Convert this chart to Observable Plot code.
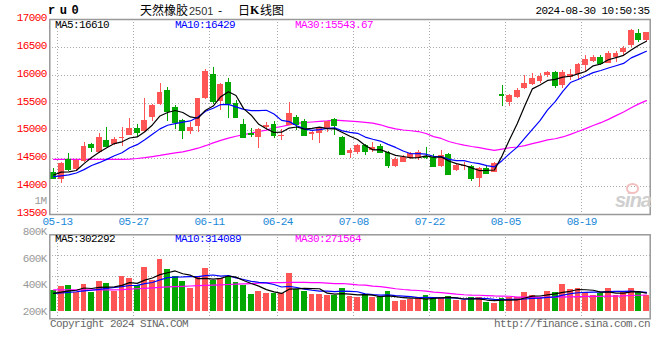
<!DOCTYPE html>
<html><head><meta charset="utf-8">
<script src="https://cdn.jsdelivr.net/npm/d3@7"></script>
<script src="https://cdn.jsdelivr.net/npm/@observablehq/plot@0.6"></script>
<style>
body{margin:0;background:#fff;}
#wrap{position:relative;width:660px;height:360px;overflow:hidden;}
#wrap svg{position:absolute;left:0;top:0;}
.t{position:absolute;white-space:nowrap;line-height:1;}
</style></head><body><div id="wrap"></div>
<script>
const dates = ["05-13","05-14","05-15","05-16","05-17","05-20","05-21","05-22","05-23","05-24",
"05-27","05-28","05-29","05-30","05-31","06-03","06-04","06-05","06-06","06-07",
"06-11","06-12","06-13","06-14","06-17","06-18","06-19","06-20","06-21","06-24",
"06-25","06-26","06-27","06-28","07-01","07-02","07-03","07-04","07-05","07-08",
"07-09","07-10","07-11","07-12","07-15","07-16","07-17","07-18","07-19","07-22",
"07-23","07-24","07-25","07-26","07-29","07-30","07-31","08-01","08-02","08-05",
"08-06","08-07","08-08","08-09","08-12","08-13","08-14","08-15","08-16","08-19",
"08-20","08-21","08-22","08-23","08-26","08-27","08-28","08-29","08-30"];
const open = [14250,14120,14490,14300,14450,14750,14620,14830,14755,14870,
14920,15035,14990,15245,15480,15725,15420,15180,14995,15080,
15590,16010,15535,15870,15500,15115,14950,14890,15060,15120,
14900,15100,15240,15165,14940,14945,15040,15200,14880,14590,
14610,14740,14640,14725,14620,14370,14440,14500,14500,14550,
14530,14370,14575,14290,14370,14360,14140,14320,14260,15650,
15515,15595,15755,15830,15885,15995,16055,15815,15965,16005,
16175,16250,16325,16215,16325,16415,16535,16740,16620];
const high = [14330,14425,14595,14480,14790,14770,14950,15060,14890,15070,
15220,15120,15580,15480,15850,15785,15455,15200,15155,15580,
16095,16130,15855,15935,15540,15205,15035,15040,15160,15170,
15030,15510,15270,15200,14990,15060,15175,15215,14900,14690,
14760,14750,14800,14760,14630,14515,14560,14610,14640,14700,
14575,14650,14600,14420,14440,14380,14350,14360,14440,15815,
15650,15755,15995,16025,16025,16075,16060,16085,16095,16215,
16355,16355,16355,16430,16430,16515,16825,16815,16765];
const low = [14120,14065,14265,14280,14440,14620,14600,14710,14740,14720,
14910,14890,14980,15170,15460,15170,15020,14845,14940,14975,
15560,15480,15365,15215,15215,14860,14885,14690,15005,14870,
14835,15090,15000,14900,14830,14780,14970,14920,14565,14500,
14580,14560,14620,14590,14330,14345,14440,14480,14470,14480,
14340,14350,14200,14280,14290,14100,13980,14220,14255,15440,
15440,15590,15750,15815,15845,15965,15755,15755,15905,15905,
16055,16235,16175,16205,16235,16355,16505,16590,16600];
const close = [14145,14420,14310,14470,14720,14700,14880,14720,14845,14880,
15040,14975,15185,15455,15690,15350,15155,15005,15055,15575,
16070,15530,15840,15500,15245,14890,14935,15020,15105,14910,
14920,15305,15110,14920,14975,15035,15165,15095,14585,14640,
14740,14635,14705,14605,14375,14490,14530,14590,14620,14530,
14370,14560,14220,14380,14385,14140,14320,14230,14420,15630,
15640,15725,15845,15935,15975,16055,15815,16055,16005,16185,
16275,16325,16215,16385,16385,16475,16800,16645,16760];
const volumeK = [351,407,423,313,440,313,489,456,325,572,
539,423,720,506,852,687,577,489,384,572,
703,516,549,582,478,423,275,330,292,297,
297,621,358,325,285,285,259,269,374,247,
226,275,226,242,325,160,181,203,219,259,
219,219,242,176,176,226,226,143,127,214,
236,231,308,269,231,330,308,440,358,374,
308,269,292,374,269,308,374,308,259];
const ma5 = [14210,14260,14265,14290,14413,14524,14616,14698,14773,14805,
14873,14892,14985,15107,15269,15331,15367,15331,15251,15228,
15372,15447,15614,15703,15637,15401,15282,15118,15039,14972,
14978,15052,15070,15033,15046,15069,15041,15038,14971,14904,
14845,14739,14661,14665,14612,14562,14541,14518,14521,14552,
14528,14534,14460,14412,14383,14337,14289,14291,14299,14548,
14848,15129,15452,15755,15824,15907,15925,15967,15981,16023,
16067,16169,16201,16277,16317,16357,16452,16538,16610];
const ma10 = [14180,14195,14210,14245,14305,14380,14430,14490,14555,14609,
14699,14754,14842,14940,15037,15102,15130,15158,15179,15249,
15352,15407,15473,15477,15433,15387,15365,15366,15371,15305,
15190,15167,15094,15036,15009,15024,15047,15054,15002,14975,
14957,14890,14850,14818,14758,14704,14640,14590,14593,14582,
14545,14538,14489,14467,14468,14433,14412,14376,14356,14466,
14593,14709,14872,15027,15186,15378,15527,15710,15868,15924,
15987,16047,16084,16129,16170,16212,16311,16370,16429];
const ma30 = [14490,14490,14490,14490,14490,14490,14490,14490,14490,14490,
14495,14505,14520,14540,14560,14585,14605,14625,14655,14690,
14735,14785,14830,14870,14905,14935,14960,14990,15015,15054,
15080,15109,15136,15151,15160,15171,15180,15193,15184,15176,
15166,15155,15139,15110,15067,15038,15017,15003,14989,14954,
14897,14865,14811,14774,14745,14720,14699,14673,14650,14674,
14698,14712,14737,14771,14804,14838,14860,14892,14939,14990,
15042,15098,15148,15208,15275,15341,15416,15485,15544];
const vma5K = [300,320,340,350,387,379,396,402,405,431,
476,463,516,552,608,638,668,622,598,542,
545,533,545,584,566,510,461,418,360,323,
298,367,373,380,377,375,302,285,294,287,
275,278,270,243,259,246,227,222,218,204,
216,224,232,223,206,208,209,189,180,187,
189,190,223,252,255,274,289,316,333,362,
358,350,320,323,302,302,323,327,302.292];
const vma10K = [300,305,315,325,340,350,365,380,395,409,
428,429,459,478,520,557,566,569,575,575,
591,601,584,591,554,527,497,481,472,445,
404,414,395,370,350,337,335,329,337,332,
325,290,277,269,273,260,253,246,230,232,
231,225,227,220,205,212,217,211,201,197,
199,200,206,216,221,232,240,269,293,309,
316,320,318,328,332,330,337,323,314.089];
const vma30K = [355,355,355,355,355,355,355,355,355,360,
368,375,382,390,398,405,410,415,420,425,
430,435,440,445,450,455,460,465,470,476,
474,481,479,480,475,474,466,460,461,450,
440,435,419,410,392,375,362,352,346,336,
320,310,300,286,276,270,268,262,256,253,
251,238,237,235,233,235,236,242,241,246,
248,248,250,255,253,258,264,268,271.564];
const dateTicks = ["05-13","05-27","06-11","06-24","07-08","07-22","08-05","08-19"];
const priceTicks = [13500,14000,14500,15000,15500,16000,16500,17000];
const volTicksK = [200,400,600,800];
const priceLegend = ["MA5:16610","MA10:16429","MA30:15543.67"];
const volLegend = ["MA5:302292","MA10:314089","MA30:271564"];

const RED = "#ff5555", GREEN = "#00a800";
const MONO = "'Liberation Mono','DejaVu Sans Mono',monospace";
const rows = dates.map((d, i) => ({i, d, o: open[i], h: high[i], l: low[i], c: close[i], v: volumeK[i],
  m5: ma5[i], m10: ma10[i], m30: ma30[i], vm5: vma5K[i], vm10: vma10K[i], vm30: vma30K[i],
  col: close[i] >= open[i] ? RED : GREEN}));
const tickIdx = dateTicks.map(t => dates.indexOf(t));
const HW = 0.39;
const grid = {stroke: "#aaa", strokeDasharray: "1,2", shapeRendering: "crispEdges"};
const baseStyle = {background: "none", fontFamily: MONO, fontSize: "11px", letterSpacing: "-0.6px", overflow: "visible"};

const price = Plot.plot({width: 660, marginLeft: 49.3, marginRight: 10.3, height: 232, marginTop: 19, marginBottom: 18,
  x: {domain: [-0.5, dates.length - 0.5]}, color: {type: "identity"}, style: baseStyle,
  y: {domain: [13500, 17000]},
  marks: [
    Plot.ruleY(priceTicks, grid),
    Plot.ruleX(tickIdx, {x: i => i + 0.5, ...grid}),
    Plot.line(rows, {x: "i", y: "m30", stroke: "#ff00ff", strokeWidth: 1.2}),
    Plot.ruleX(rows, {x: "i", y1: "l", y2: "h", stroke: "col", shapeRendering: "crispEdges"}),
    Plot.rect(rows, {x1: d => d.i - HW, x2: d => d.i + HW, y1: "o", y2: "c", fill: "col", shapeRendering: "crispEdges"}),
    Plot.ruleY(rows, {y: "c", x1: d => d.i - HW, x2: d => d.i + HW, stroke: "col", shapeRendering: "crispEdges"}),
    Plot.line(rows, {x: "i", y: "m10", stroke: "#0000ff", strokeWidth: 1.2}),
    Plot.line(rows, {x: "i", y: "m5", stroke: "#000", strokeWidth: 1.2}),
    Plot.frame({stroke: "#999", strokeWidth: 1.5}),
    Plot.axisY({ticks: priceTicks, anchor: "left", tickSize: 0, tickPadding: 3, dy: -2, color: "#ff0000", tickFormat: d => String(d), label: null}),
    Plot.axisX({ticks: tickIdx.map(i => i + 0.5), anchor: "bottom", tickSize: 0, tickPadding: 3, color: "#1a88d8", tickFormat: v => dates[Math.round(v - 0.5)], label: null})
  ]});

const vDomain = [-120, 1263];
const volGrid = [0.25, 0.5, 0.75].map(f => vDomain[0] + (vDomain[1] - vDomain[0]) * f);
const vol = Plot.plot({width: 660, marginLeft: 49.3, marginRight: 10.3, height: 330, marginTop: 234.3, marginBottom: 11.7,
  x: {domain: [-0.5, dates.length - 0.5], axis: null}, color: {type: "identity"}, style: baseStyle,
  y: {domain: vDomain, axis: null},
  marks: [
    Plot.ruleY(volGrid, grid),
    Plot.ruleX(tickIdx, {x: i => i + 0.5, ...grid}),
    Plot.rect(rows, {x1: d => d.i - HW, x2: d => d.i + HW, y1: 0, y2: "v", fill: "col", shapeRendering: "crispEdges"}),
    Plot.line(rows, {x: "i", y: "vm30", stroke: "#ff00ff", strokeWidth: 1.2}),
    Plot.line(rows, {x: "i", y: "vm10", stroke: "#0000ff", strokeWidth: 1.2}),
    Plot.line(rows, {x: "i", y: "vm5", stroke: "#000", strokeWidth: 1.2}),
    Plot.frame({stroke: "#999", strokeWidth: 1.5})
  ]});

const volAxis = Plot.plot({width: 660, height: 330, marginLeft: 49.3, marginRight: 10.3, marginTop: 0, marginBottom: 0,
  y: {domain: [200, 800], range: [310.5, 231]}, style: baseStyle,
  marks: [Plot.axisY({ticks: volTicksK, anchor: "left", tickSize: 0, tickPadding: 3, color: "#999", tickFormat: d => d + "K", label: null})]});

const wrap = document.getElementById("wrap");
wrap.append(price, vol, volAxis);

function txt(s, x, y, o = {}) {
  const el = document.createElement("div");
  el.className = "t";
  el.textContent = s;
  const a = o.anchor || "start";
  Object.assign(el.style, {left: x + "px", top: y + "px", color: o.color || "#000",
    fontSize: (o.size || 11) + "px", fontWeight: o.weight || "normal", fontFamily: o.family || MONO,
    letterSpacing: o.ls !== undefined ? o.ls : "-0.6px", fontStyle: o.italic ? "italic" : "normal",
    transform: `translate(${a === "end" ? "-100%" : a === "middle" ? "-50%" : "0"},-50%)`});
  wrap.appendChild(el);
  return el;
}
const CJK = "'Noto Sans CJK SC',sans-serif";
txt("ru0", 48, 11, {size: 12, weight: "bold", ls: "4.5px"});
txt("天然橡胶", 140, 9.5, {size: 12, family: CJK, ls: "0px"});
txt("2501", 189, 10.5, {size: 11, family: "'Liberation Sans',sans-serif", color: "#333", ls: "0px"});
txt("-", 218, 9.5, {size: 12, family: CJK, ls: "0px"});
txt("日", 238, 9.5, {size: 12, family: CJK, ls: "0px"});
txt("K", 250, 10, {size: 12, family: "'Liberation Serif',serif", weight: "bold", ls: "0px"});
txt("线图", 260, 9.5, {size: 12, family: CJK, ls: "0px"});
txt("2024-08-30 10:50:35", 649.5, 11.2, {anchor: "end"});
const legColors = ["#000", "#0000ff", "#ff00ff"];
const legX = [55, 175, 295];
priceLegend.forEach((s, j) => txt(s, legX[j], 24.5, {color: legColors[j]}));
volLegend.forEach((s, j) => txt(s, legX[j], 238.5, {color: legColors[j]}));
txt("1M", 46.5, 200.5, {anchor: "end", color: "#999"});
txt("Copyright 2024 SINA.COM", 50, 324, {color: "#666"});
txt("http://finance.sina.com.cn", 650, 324, {anchor: "end", color: "#666"});
txt("sina", 651, 200, {anchor: "end", size: 20, weight: "bold", italic: true, color: "#cfcfcf", family: "'Liberation Sans',sans-serif", ls: "-1px"});
const logo = document.createElement("div");
Object.assign(logo.style, {position: "absolute", left: "626px", top: "183px", width: "9px", height: "7px", borderRadius: "50%", border: "2px solid #f3c0c0"});
wrap.appendChild(logo);
</script></body></html>
